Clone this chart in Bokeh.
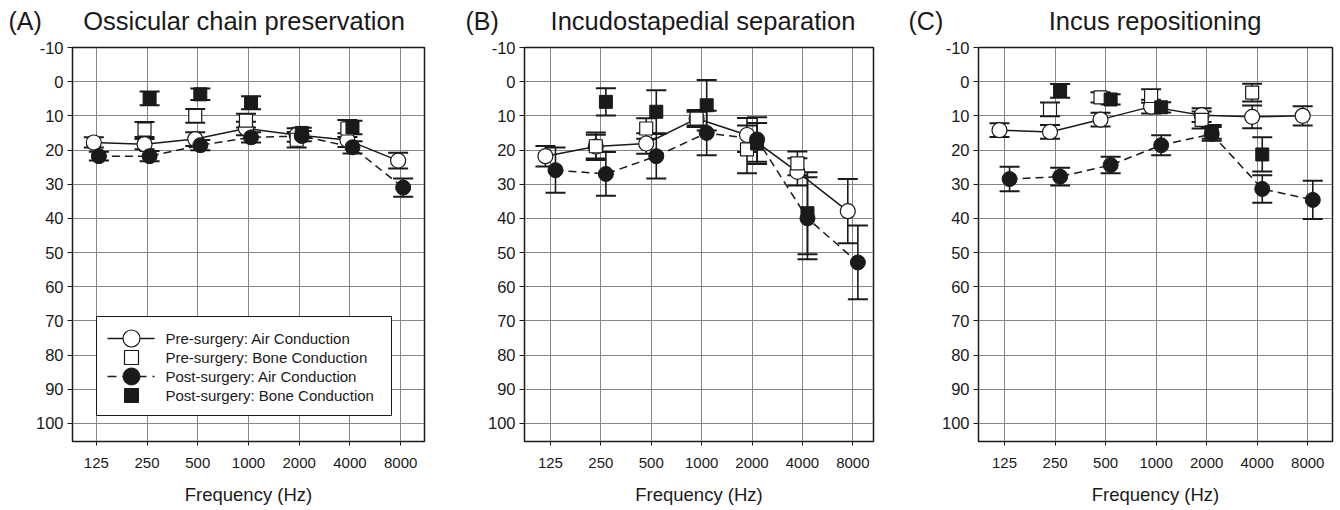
from bokeh.plotting import figure
from bokeh.layouts import row, column
from bokeh.models import Range1d, FixedTicker, Label
from bokeh.core.properties import value
from bokeh.embed import file_html
from bokeh.resources import INLINE

# ---------------- data ----------------
freq_labels = ["125", "250", "500", "1000", "2000", "4000", "8000"]
bone_labels = ["250", "500", "1000", "2000", "4000"]
y_tick_values = list(range(-10, 101, 10))
panel_tags = ["(A)", "(B)", "(C)"]
panel_titles = ["Ossicular chain preservation", "Incudostapedial separation", "Incus repositioning"]
legend_labels = ["Pre-surgery: Air Conduction", "Pre-surgery: Bone Conduction",
                 "Post-surgery: Air Conduction", "Post-surgery: Bone Conduction"]
x_title = "Frequency (Hz)"

# Panel A: Ossicular chain preservation
a_pre_air = [17.8, 18.3, 16.8, 13.7, 15.6, 17.1, 23.1]
a_pre_air_err = [1.5, 1.5, 2.0, 2.0, 2.0, 2.0, 2.3]
a_pre_bone = [14.0, 10.0, 11.4, 17.0, 13.7]
a_pre_bone_err = [2.2, 2.0, 2.0, 2.3, 2.5]
a_post_air = [21.8, 21.8, 18.6, 16.3, 15.9, 19.2, 31.0]
a_post_air_err = [1.3, 1.5, 1.5, 1.5, 1.5, 1.8, 2.7]
a_post_bone = [4.9, 3.7, 6.2, 15.0, 13.4]
a_post_bone_err = [2.0, 1.7, 1.9, 1.5, 2.0]

# Panel B: Incudostapedial separation
b_pre_air = [21.8, 19.0, 18.1, 10.8, 15.6, 26.4, 37.9]
b_pre_air_err = [3.0, 3.5, 3.0, 2.5, 5.0, 4.0, 9.4]
b_pre_bone = [18.9, 13.7, 10.8, 19.8, 23.9]
b_pre_bone_err = [4.0, 3.0, 2.0, 7.0, 3.5]
b_post_air = [25.9, 27.0, 21.8, 15.0, 16.9, 40.0, 52.9]
b_post_air_err = [6.6, 6.4, 6.5, 6.5, 6.5, 12.0, 10.8]
b_post_bone = [5.9, 8.8, 6.9, 18.1, 38.5]
b_post_bone_err = [4.0, 6.3, 7.4, 6.0, 12.0]

# Panel C: Incus repositioning
c_pre_air = [14.2, 14.7, 11.1, 7.3, 9.8, 10.3, 10.0]
c_pre_air_err = [2.0, 2.0, 2.0, 2.0, 2.0, 3.3, 2.8]
c_pre_bone = [8.1, 4.6, 4.2, 11.2, 3.2]
c_pre_bone_err = [2.0, 1.5, 2.0, 2.5, 2.6]
c_post_air = [28.5, 27.8, 24.4, 18.6, 15.3, 31.4, 34.6]
c_post_air_err = [3.6, 2.6, 2.4, 2.9, 2.0, 4.0, 5.6]
c_post_bone = [2.7, 5.2, 7.5, 14.7, 21.3]
c_post_bone_err = [2.0, 1.5, 1.5, 2.0, 5.0]

panels_data = [
    (a_pre_air, a_pre_air_err, a_pre_bone, a_pre_bone_err, a_post_air, a_post_air_err, a_post_bone, a_post_bone_err),
    (b_pre_air, b_pre_air_err, b_pre_bone, b_pre_bone_err, b_post_air, b_post_air_err, b_post_bone, b_post_bone_err),
    (c_pre_air, c_pre_air_err, c_pre_bone, c_pre_bone_err, c_post_air, c_post_air_err, c_post_bone, c_post_bone_err),
]

# ---------------- layout / style ----------------
FONT = "Liberation Sans"
INK = "#1a1a1a"
GRID = "#858585"
FRAME_H = 394
Y_TOP, Y_BOT = -10, 105.3
HEAD_H = 35
TOP_B = 12
layouts = [
    dict(width=470, bl=72, br=46, fw=352, xr=(-0.47, 6.47), off=0.05),
    dict(width=448, bl=54, br=45, fw=349, xr=(-0.515, 6.41), off=0.10),
    dict(width=418, bl=60, br=4, fw=354, xr=(-0.515, 6.49), off=0.10),
]
# header text positions (page pixels)
tag_x = [8, 465, 908]
title_cx = [243.5, 702.5, 1154.5]
head_baseline = 15

x_index = {f: i for i, f in enumerate(freq_labels)}
air_x = [x_index[f] for f in freq_labels]
bone_x = [x_index[f] for f in bone_labels]


def errorbars(p, xs, ys, errs):
    lo = [y - e for y, e in zip(ys, errs)]
    hi = [y + e for y, e in zip(ys, errs)]
    p.segment(x0=xs, y0=lo, x1=xs, y1=hi, line_color=INK, line_width=1.6)
    p.scatter(x=xs + xs, y=lo + hi, marker="dash", size=20, line_color=INK, line_width=2)


# ---- header strip with panel tags and titles ----
total_w = sum(l["width"] for l in layouts)
head = figure(width=total_w, height=HEAD_H, x_range=Range1d(0, total_w), y_range=Range1d(0, HEAD_H),
              x_axis_type=None, y_axis_type=None, output_backend="svg", toolbar_location=None,
              min_border=0)
head.outline_line_color = None
head.background_fill_color = "white"
head.border_fill_color = "white"
for k in range(3):
    head.add_layout(Label(x=tag_x[k], y=head_baseline, x_units="screen", y_units="screen",
                          text=panel_tags[k], text_font=FONT, text_font_size="25px",
                          text_color=INK, text_baseline="alphabetic", text_align="left"))
    head.add_layout(Label(x=title_cx[k], y=head_baseline, x_units="screen", y_units="screen",
                          text=panel_titles[k], text_font=FONT, text_font_size="25.5px",
                          text_color=INK, text_baseline="alphabetic", text_align="center"))

figs = []
for k, (lay, data) in enumerate(zip(layouts, panels_data)):
    pre_air, pre_air_err, pre_bone, pre_bone_err, post_air, post_air_err, post_bone, post_bone_err = data
    off = lay["off"]
    p = figure(width=lay["width"], height=TOP_B + FRAME_H + 69,
               x_range=Range1d(*lay["xr"]), y_range=Range1d(Y_BOT, Y_TOP),
               output_backend="svg", toolbar_location=None,
               min_border_left=lay["bl"], min_border_right=lay["br"],
               min_border_top=TOP_B, min_border_bottom=69)
    p.background_fill_color = "white"
    p.border_fill_color = "white"
    p.outline_line_color = INK
    p.outline_line_width = 1.5

    xt = FixedTicker(ticks=air_x)
    yt = FixedTicker(ticks=y_tick_values)
    p.xaxis.ticker = xt
    p.yaxis.ticker = yt
    p.xgrid.ticker = xt
    p.ygrid.ticker = yt
    p.xaxis.major_label_overrides = {i: f for i, f in zip(air_x, freq_labels)}
    p.yaxis.major_label_overrides = {v: str(v) for v in y_tick_values}
    for g in (p.xgrid, p.ygrid):
        g.grid_line_color = GRID
        g.grid_line_width = 1
    for ax in (p.xaxis, p.yaxis):
        ax.axis_line_color = None
        ax.major_tick_line_color = INK
        ax.minor_tick_line_color = None
        ax.major_tick_in = 0
        ax.major_label_text_font = FONT
        ax.major_label_text_color = INK
    p.xaxis.major_tick_out = 4
    p.xaxis.major_label_standoff = 12
    p.xaxis.major_label_text_font_size = "15px"
    p.yaxis.major_tick_out = 5
    p.yaxis.major_label_standoff = 4
    p.yaxis.major_label_text_font_size = "16.5px"
    p.xaxis.axis_label = x_title
    p.xaxis.axis_label_text_font = FONT
    p.xaxis.axis_label_text_font_size = "18.5px"
    p.xaxis.axis_label_text_font_style = "normal"
    p.xaxis.axis_label_text_color = INK
    p.xaxis.axis_label_standoff = 13

    pre_ax = [x - off for x in air_x]
    post_ax = [x + off for x in air_x]
    pre_bx = [x - off for x in bone_x]
    post_bx = [x + off for x in bone_x]

    p.line(pre_ax, pre_air, line_color=INK, line_width=1.5)
    p.line(post_ax, post_air, line_color=INK, line_width=1.5, line_dash="8 5")

    errorbars(p, pre_ax, pre_air, pre_air_err)
    errorbars(p, pre_bx, pre_bone, pre_bone_err)
    errorbars(p, post_ax, post_air, post_air_err)
    errorbars(p, post_bx, post_bone, post_bone_err)

    p.scatter(pre_ax, pre_air, marker="circle", size=15, fill_color="white", line_color=INK, line_width=1.2)
    p.scatter(pre_bx, pre_bone, marker="square", size=13, fill_color="white", line_color=INK, line_width=1.2)
    p.scatter(post_ax, post_air, marker="circle", size=15, fill_color=INK, line_color=INK, line_width=1)
    p.scatter(post_bx, post_bone, marker="square", size=13, fill_color=INK, line_color=INK, line_width=1)

    if k == 0:
        # legend drawn inside the frame; positions given in frame pixels
        x0, x1 = lay["xr"]
        fw = lay["fw"]

        def px2x(px):
            return x0 + px * (x1 - x0) / fw

        def py2y(py):
            return Y_TOP + py * (Y_BOT - Y_TOP) / FRAME_H

        rows_py = [291, 310, 329, 348]
        p.quad(left=[px2x(24)], right=[px2x(319)], top=[py2y(269)], bottom=[py2y(368)],
               fill_color="white", line_color=INK, line_width=1)
        gx = px2x(59)
        lx0, lx1 = px2x(35), px2x(82)
        ry = [py2y(v) for v in rows_py]
        p.segment(x0=[lx0], y0=[ry[0]], x1=[lx1], y1=[ry[0]], line_color=INK, line_width=1.5)
        p.segment(x0=[lx0], y0=[ry[2]], x1=[lx1], y1=[ry[2]], line_color=INK, line_width=1.5,
                  line_dash="9 6")
        p.scatter([gx], [ry[0]], marker="circle", size=17, fill_color="white", line_color=INK, line_width=1.2)
        p.scatter([gx], [ry[1]], marker="square", size=14, fill_color="white", line_color=INK, line_width=1.2)
        p.scatter([gx], [ry[2]], marker="circle", size=17, fill_color=INK, line_color=INK)
        p.scatter([gx], [ry[3]], marker="square", size=14, fill_color=INK, line_color=INK)
        p.text(x=[px2x(93)] * 4, y=ry, text=legend_labels, text_font=value(FONT),
               text_font_size=value("15px"), text_color=INK, text_baseline="middle", text_align="left")
    figs.append(p)

layout = column(head, row(*figs))
open("out.html", "w").write(file_html(layout, INLINE))
